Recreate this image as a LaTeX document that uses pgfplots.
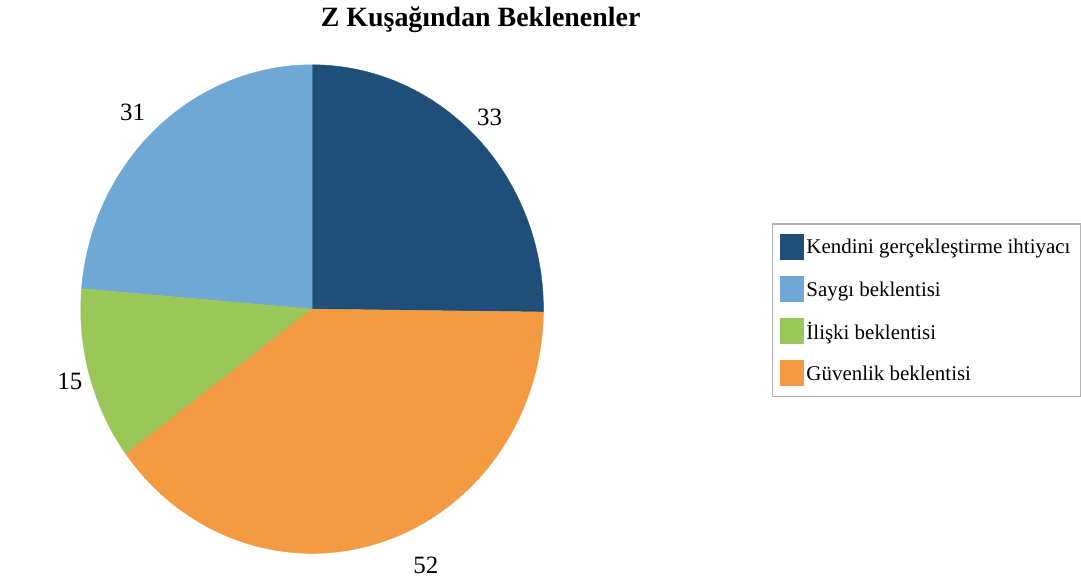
\documentclass[border=0pt]{standalone}
\usepackage{fontspec}
\setmainfont{Liberation Serif}
\usepackage{pgfplots}
\usepackage{pgfplotstable}
\pgfplotsset{compat=1.18}
\definecolor{cK}{HTML}{1F4E79}
\definecolor{cS}{HTML}{6FA7D5}
\definecolor{cI}{HTML}{9BC65A}
\definecolor{cG}{HTML}{F39A42}
\pgfplotstableread[col sep=comma]{
name,value
Kendini gerçekleştirme ihtiyacı,33
Saygı beklentisi,31
İlişki beklentisi,15
Güvenlik beklentisi,52
}\datatable
\pgfplotstablegetelem{0}{value}\of\datatable \edef\vA{\pgfplotsretval}
\pgfplotstablegetelem{1}{value}\of\datatable \edef\vB{\pgfplotsretval}
\pgfplotstablegetelem{2}{value}\of\datatable \edef\vC{\pgfplotsretval}
\pgfplotstablegetelem{3}{value}\of\datatable \edef\vD{\pgfplotsretval}
\pgfmathsetmacro\tot{\vA+\vB+\vC+\vD}
\pgfmathsetmacro\aA{90-360*\vA/\tot}
\pgfmathsetmacro\aB{90+360*\vB/\tot}
\pgfmathsetmacro\aC{\aB+360*\vC/\tot}
\pgfmathsetmacro\aD{\aA+360}
\begin{document}
\begin{tikzpicture}
\begin{axis}[
  width=1081pt, height=583pt, scale only axis,
  xmin=0, xmax=1081, ymin=0, ymax=583,
  hide axis, clip=false,
  legend style={at={(axis cs:774,359)}, anchor=north west,
    draw=gray!60, line width=1.2pt, font=\fontsize{21}{25}\selectfont,
    row sep=16pt, inner xsep=8pt, inner ysep=10pt},
  legend cell align=left,
  legend image code/.code={\fill[#1] (0pt,-12pt) rectangle (23pt,13pt);},
]
\path (axis cs:0,0) rectangle (axis cs:1081,583);
\addplot[fill=cK, draw=cK, domain=\aA:90, samples=90, variable=\t]
  ({313+232*cos(t)},{273+245*sin(t)}) -- (axis cs:313,273) -- cycle;
\addlegendentry{Kendini gerçekleştirme ihtiyacı}
\addplot[fill=cS, draw=cS, domain=90:\aB, samples=90, variable=\t]
  ({313+232*cos(t)},{273+245*sin(t)}) -- (axis cs:313,273) -- cycle;
\addlegendentry{Saygı beklentisi}
\addplot[fill=cI, draw=cI, domain=\aB:\aC, samples=60, variable=\t]
  ({313+232*cos(t)},{273+245*sin(t)}) -- (axis cs:313,273) -- cycle;
\addlegendentry{İlişki beklentisi}
\addplot[fill=cG, draw=cG, domain=\aC:\aD, samples=140, variable=\t]
  ({313+232*cos(t)},{273+245*sin(t)}) -- (axis cs:313,273) -- cycle;
\addlegendentry{Güvenlik beklentisi}
\node[font=\bfseries\fontsize{28}{32}\selectfont] at (axis cs:482,563) {Z Kuşağından Beklenenler};
\node[font=\fontsize{25}{28}\selectfont] at (axis cs:491,465) {\vA};
\node[font=\fontsize{25}{28}\selectfont] at (axis cs:133,470) {\vB};
\node[font=\fontsize{25}{28}\selectfont] at (axis cs:70,200) {\vC};
\node[font=\fontsize{25}{28}\selectfont] at (axis cs:427,16) {\vD};
\end{axis}
\end{tikzpicture}
\end{document}
